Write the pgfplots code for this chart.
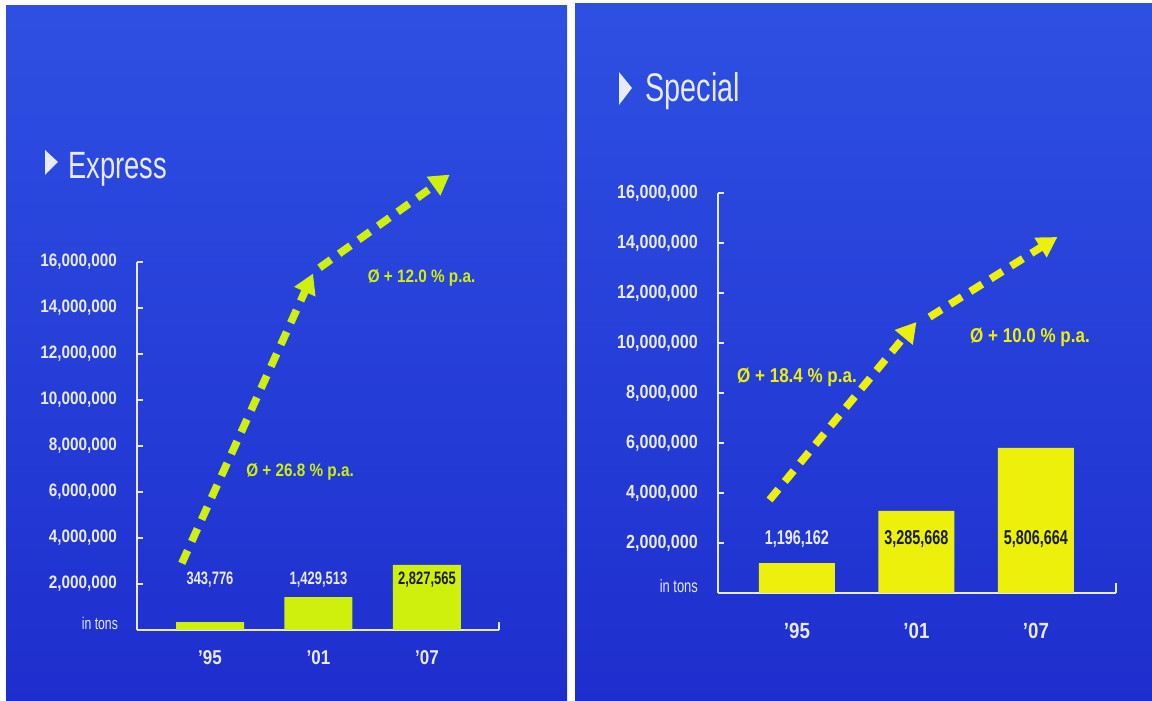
\documentclass[border=0pt]{standalone}
\usepackage{fontspec}
\setmainfont{Liberation Sans}
\newfontfamily\tickfont{Liberation Sans}[FakeStretch=0.85]
\newfontfamily\narrowfont{Liberation Sans}[FakeStretch=0.72]
\usepackage{pgfplots}
\pgfplotsset{compat=1.18}
\usetikzlibrary{arrows.meta}

\definecolor{panelTop}{RGB}{46,80,226}
\definecolor{panelBot}{RGB}{30,46,206}
\definecolor{lime}{RGB}{206,240,12}
\definecolor{yel}{RGB}{236,240,10}
\definecolor{txtw}{RGB}{232,234,246}
\definecolor{dark}{RGB}{25,30,50}

\pgfplotsset{
  panel/.style={
    scale only axis,
    axis x line*=bottom, axis y line*=left,
    axis line style={txtw, line width=1pt},
    ymin=0, ymax=16000000,
    ytick={2000000,4000000,6000000,8000000,10000000,12000000,14000000,16000000},
    yticklabels={{2,000,000},{4,000,000},{6,000,000},{8,000,000},{10,000,000},{12,000,000},{14,000,000},{16,000,000}},
    scaled y ticks=false,
    tick align=inside,
    major tick length=3pt,
    ytick style={txtw, line width=1pt},
    xtick={0,1,2},
    xticklabels={’95,’01,’07},
    xtick style={draw=none},
    clip=false,
    /pgf/number format/assume math mode=true,
  },
  growth/.style={line width=3.8pt, dash pattern=on 7pt off 5pt, -{Triangle[length=10pt,width=11pt]}},
}

\begin{document}
\begin{tikzpicture}
\useasboundingbox (0,0) rectangle (576pt,350.5pt);
\fill[white] (0,0) rectangle (576pt,350.5pt);
\shade[top color=panelTop,bottom color=panelBot] (3pt,0) rectangle (283.5pt,347.5pt);
\shade[top color=panelTop,bottom color=panelBot] (287.5pt,0) rectangle (576pt,348.5pt);

% titles
\fill[txtw] (22.5pt,275.5pt) -- (29pt,269.5pt) -- (22.5pt,263pt) -- cycle;
\node[anchor=base west, inner sep=0pt, text=txtw, font=\narrowfont\fontsize{19}{22}\selectfont] at (34pt,261pt) {Express};
\fill[txtw] (309.5pt,314.5pt) -- (316pt,306.5pt) -- (309.5pt,298pt) -- cycle;
\node[anchor=base west, inner sep=0pt, text=txtw, font=\narrowfont\fontsize{20}{23}\selectfont] at (322.5pt,299.5pt) {Special};

% ---------------- Express
\begin{axis}[panel,
  at={(68.5pt,35.5pt)}, anchor=south west,
  width=181pt, height=184pt,
  xmin=-0.673, xmax=2.664,
  yticklabel style={text=txtw, font=\tickfont\bfseries\fontsize{9}{10}\selectfont, xshift=-6.5pt},
  xticklabel style={text=txtw, font=\tickfont\bfseries\fontsize{10}{12}\selectfont, yshift=-6.5pt},
]
\addplot[ybar, bar width=34pt, fill=lime, draw=none] coordinates {(0,343776) (1,1429513) (2,2827565)};
\addplot[growth, color=lime] coordinates {(-0.26,2900000) (0.95,15500000)};
\addplot[growth, color=lime] coordinates {(1.01,15750000) (2.21,19800000)};
\node[text=txtw, font=\narrowfont\bfseries\fontsize{9}{10}\selectfont] at (axis cs:0,2170000) {343,776};
\node[text=txtw, font=\narrowfont\bfseries\fontsize{9}{10}\selectfont] at (axis cs:1,2170000) {1,429,513};
\node[text=dark, font=\narrowfont\bfseries\fontsize{9}{10}\selectfont] at (axis cs:2,2170000) {2,827,565};
\node[text=lime, font=\tickfont\bfseries\fontsize{9}{10}\selectfont] at (axis cs:0.83,6870000) {Ø + 26.8 \% p.a.};
\node[text=lime, font=\tickfont\bfseries\fontsize{9}{10}\selectfont] at (axis cs:1.95,15300000) {Ø + 12.0 \% p.a.};
\node[anchor=east, xshift=-6pt, yshift=3.5pt, text=txtw, font=\narrowfont\fontsize{8.5}{9}\selectfont] at (rel axis cs:0,0) {in tons};
\draw[txtw, line width=1pt] (rel axis cs:1,0) -- ([yshift=4pt]rel axis cs:1,0);
\end{axis}

% ---------------- Special
\begin{axis}[panel,
  at={(359pt,54pt)}, anchor=south west,
  width=199pt, height=200pt,
  xmin=-0.661, xmax=2.67,
  yticklabel style={text=txtw, font=\tickfont\bfseries\fontsize{9.5}{11}\selectfont, xshift=-6.5pt},
  xticklabel style={text=txtw, font=\tickfont\bfseries\fontsize{11}{13}\selectfont, yshift=-11.5pt},
]
\addplot[ybar, bar width=38pt, fill=yel, draw=none] coordinates {(0,1196162) (1,3285668) (2,5806664)};
\addplot[growth, color=yel] coordinates {(-0.23,3720000) (1.0,10840000)};
\addplot[growth, color=yel] coordinates {(1.11,11040000) (2.18,14240000)};
\node[text=txtw, font=\narrowfont\bfseries\fontsize{10}{11}\selectfont] at (axis cs:0,2160000) {1,196,162};
\node[text=dark, font=\narrowfont\bfseries\fontsize{10}{11}\selectfont] at (axis cs:1,2160000) {3,285,668};
\node[text=dark, font=\narrowfont\bfseries\fontsize{10}{11}\selectfont] at (axis cs:2,2160000) {5,806,664};
\node[text=yel, font=\tickfont\bfseries\fontsize{10}{11}\selectfont] at (axis cs:0,8640000) {Ø + 18.4 \% p.a.};
\node[text=yel, font=\tickfont\bfseries\fontsize{10}{11}\selectfont] at (axis cs:1.95,10240000) {Ø + 10.0 \% p.a.};
\node[anchor=east, xshift=-6.5pt, yshift=3.5pt, text=txtw, font=\narrowfont\fontsize{9}{10}\selectfont] at (rel axis cs:0,0) {in tons};
\draw[txtw, line width=1pt] (rel axis cs:1,0) -- ([yshift=5pt]rel axis cs:1,0);
\end{axis}
\end{tikzpicture}
\end{document}
